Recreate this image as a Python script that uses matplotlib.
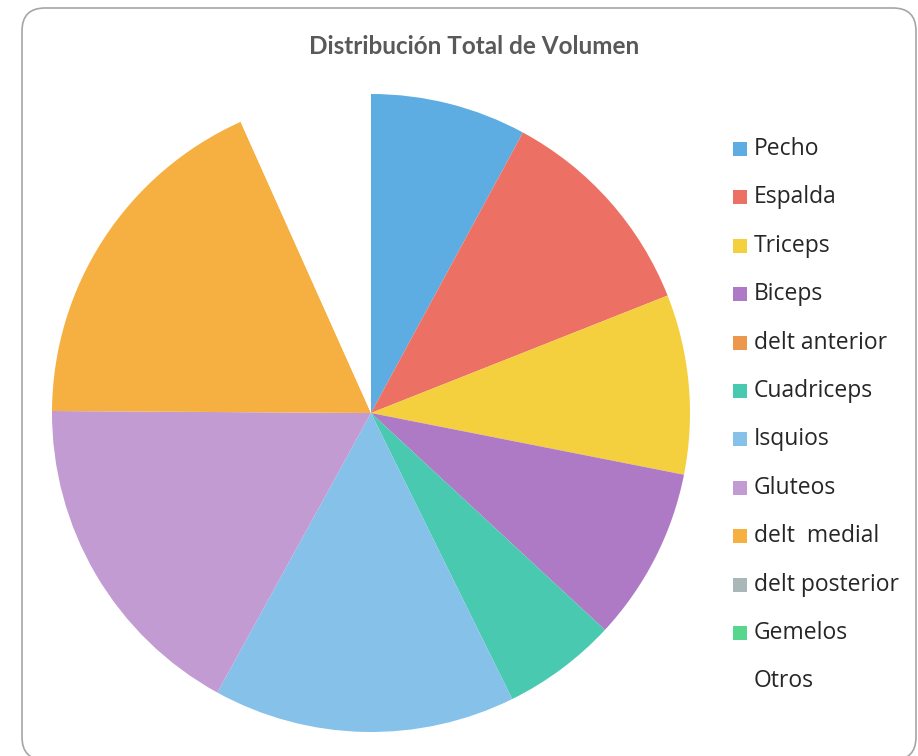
import matplotlib.pyplot as plt
from matplotlib.patches import FancyBboxPatch, Rectangle

# datos (aprox. en porcentaje del volumen total)
musculos = ['Pecho', 'Espalda', 'Triceps', 'Biceps', 'delt anterior', 'Cuadriceps',
            'Isquios', 'Gluteos', 'delt  medial', 'delt posterior', 'Gemelos', 'Otros']
volumen = [7.9, 11.1, 9.1, 8.8, 0, 5.8, 15.3, 17.1, 18.2, 0, 0, 6.7]
colores = ['#5DADE2', '#EC7063', '#F4D03F', '#AF7AC5', '#EB984E', '#48C9B0',
           '#85C1E9', '#C39BD3', '#F5B041', '#AAB7B8', '#58D68D', '#FFFFFF']

W, H = 918, 756
fig = plt.figure(figsize=(W / 100, H / 100), dpi=100)

# marco redondeado
marco = FancyBboxPatch((22 / W, -4 / H), 894 / W, (H - 8 + 4) / H,
                       boxstyle='round,pad=0,rounding_size=0.025',
                       transform=fig.transFigure, facecolor='none',
                       edgecolor='#A6A6A6', linewidth=1.2, mutation_aspect=W / H,
                       zorder=5)
fig.patches.append(marco)

cx, cy, r = 371, 413, 319
ax = fig.add_axes([(cx - r) / W, (H - cy - r) / H, 2 * r / W, 2 * r / H])
ax.pie(volumen, colors=colores, startangle=90, counterclock=False,
       wedgeprops={'linewidth': 0})
ax.set_xlim(-1, 1)
ax.set_ylim(-1, 1)
ax.set_aspect('equal')
ax.axis('off')

fig.text(474 / W, 1 - 47 / H, 'Distribución Total de Volumen', ha='center', va='center',
         fontsize=17.5, fontweight='bold', color='#595959', family='Lato')

# leyenda
for i, (nombre, c) in enumerate(zip(musculos, colores)):
    y = 149 + i * 48.4
    if nombre != 'Otros':
        fig.patches.append(Rectangle((733 / W, 1 - (y + 7) / H), 14 / W, 14 / H,
                                     transform=fig.transFigure, facecolor=c,
                                     edgecolor='none'))
    fig.text(754 / W, 1 - y / H, nombre, ha='left', va='center', fontsize=16.5,
             color='#262626', family='Open Sans')

plt.savefig('out.png', dpi=100)
